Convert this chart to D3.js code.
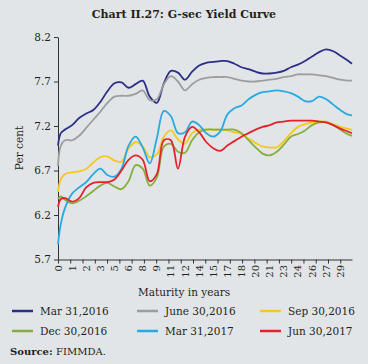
<!DOCTYPE html>
<html>
<head>
<meta charset="utf-8">
<script src="https://cdn.jsdelivr.net/npm/d3@7"></script>
<style>
  body { margin: 0; background: #e1e5e8; }
  svg { display: block; font-family: "DejaVu Serif", serif; }
</style>
</head>
<body>
<svg id="chart" width="368" height="364"></svg>
<script>
// slot = position along the category axis (one slot per printed label)
var slots = [0, 0.2, 0.5, 1, 1.5, 2, 2.5, 3, 3.5, 4, 4.5, 5, 5.5, 6, 6.5, 7, 7.5, 8, 8.5, 9, 9.5,
  10, 10.5, 11, 11.5, 12, 12.5, 13, 13.5, 14, 14.5, 15, 15.5, 16, 16.5, 17, 17.5, 18, 18.5,
  19, 19.5, 20, 20.5, 20.83];

var mar2016 = [6.98, 7.12, 7.16, 7.21, 7.29, 7.34, 7.38, 7.47, 7.59, 7.68, 7.69, 7.63, 7.67, 7.71, 7.53,
  7.46, 7.68, 7.82, 7.80, 7.72, 7.81, 7.88, 7.91, 7.92, 7.93, 7.93, 7.90, 7.86, 7.84, 7.81, 7.79,
  7.79, 7.80, 7.82, 7.86, 7.89, 7.93, 7.98, 8.03, 8.06, 8.04, 7.99, 7.94, 7.90];
var jun2016 = [6.75, 6.98, 7.04, 7.04, 7.09, 7.18, 7.27, 7.36, 7.46, 7.53, 7.54, 7.54, 7.56, 7.60, 7.49,
  7.50, 7.67, 7.76, 7.70, 7.60, 7.67, 7.72, 7.74, 7.75, 7.75, 7.75, 7.73, 7.71, 7.70, 7.70, 7.71,
  7.72, 7.73, 7.75, 7.76, 7.78, 7.78, 7.78, 7.77, 7.76, 7.74, 7.72, 7.71, 7.71];
var sep2016 = [6.46, 6.60, 6.66, 6.68, 6.69, 6.72, 6.79, 6.85, 6.86, 6.81, 6.80, 6.95, 7.02, 6.97, 6.85,
  6.88, 7.08, 7.15, 7.05, 7.00, 7.12, 7.16, 7.16, 7.16, 7.16, 7.15, 7.13, 7.11, 7.06, 7.01, 6.97,
  6.96, 6.96, 7.03, 7.12, 7.19, 7.22, 7.24, 7.25, 7.25, 7.22, 7.19, 7.17, 7.16];
var dec2016 = [6.38, 6.41, 6.37, 6.33, 6.36, 6.41, 6.47, 6.53, 6.56, 6.52, 6.49, 6.58, 6.76, 6.72, 6.53,
  6.62, 6.97, 7.00, 6.91, 6.90, 7.04, 7.13, 7.16, 7.16, 7.16, 7.16, 7.16, 7.12, 7.04, 6.96, 6.89,
  6.87, 6.91, 6.99, 7.08, 7.11, 7.15, 7.21, 7.24, 7.24, 7.21, 7.16, 7.11, 7.09];
var mar2017 = [5.87, 6.10, 6.28, 6.44, 6.51, 6.57, 6.66, 6.72, 6.65, 6.63, 6.72, 6.98, 7.08, 6.96, 6.78,
  7.06, 7.37, 7.31, 7.12, 7.13, 7.25, 7.21, 7.12, 7.08, 7.14, 7.33, 7.40, 7.43, 7.50, 7.55, 7.58,
  7.59, 7.60, 7.59, 7.57, 7.53, 7.48, 7.48, 7.53, 7.50, 7.44, 7.38, 7.33, 7.32];
var jun2017 = [6.29, 6.38, 6.39, 6.35, 6.39, 6.51, 6.56, 6.57, 6.57, 6.60, 6.70, 6.82, 6.87, 6.82, 6.58,
  6.66, 7.04, 7.04, 6.72, 7.08, 7.19, 7.13, 7.02, 6.95, 6.92, 6.98, 7.03, 7.08, 7.12, 7.16, 7.19,
  7.21, 7.24, 7.25, 7.26, 7.26, 7.26, 7.26, 7.25, 7.24, 7.21, 7.17, 7.14, 7.12];

var seriesNames = ["Mar 31,2016", "June 30,2016", "Sep 30,2016", "Dec 30,2016", "Mar 31,2017", "Jun 30,2017"];
var seriesColors = ["#2b2f86", "#9d9d9d", "#f7c81a", "#86ae3f", "#27a9e1", "#e2232b"];
var seriesData = [mar2016, jun2016, sep2016, dec2016, mar2017, jun2017];

var xLabels = ["0", "1", "2", "3", "5", "6", "8", "9", "11", "12", "14", "15", "17", "18", "20",
  "21", "23", "24", "26", "27", "29"];
var yTicks = [5.7, 6.2, 6.7, 7.2, 7.7, 8.2];

var svg = d3.select("#chart");

var xScale = d3.scaleLinear()
    .domain([0, 20.83])
    .range([58, 352]);
var yScale = d3.scaleLinear()
    .domain([5.7, 8.2])
    .range([259.5, 37]);

svg.append("text")
    .attr("x", 184)
    .attr("y", 18)
    .attr("text-anchor", "middle")
    .attr("font-size", 11)
    .attr("font-weight", "bold")
    .attr("fill", "#231f20")
    .text("Chart II.27: G-sec Yield Curve");

// y axis
var yAxis = d3.axisLeft(yScale)
    .tickValues(yTicks)
    .tickFormat(d3.format(".1f"))
    .tickSize(4)
    .tickSizeOuter(0);
var gy = svg.append("g")
    .attr("transform", "translate(58,0)")
    .call(yAxis);
gy.select(".domain").attr("stroke", "#333");
gy.selectAll(".tick line").attr("stroke", "#333");
gy.selectAll("text")
    .attr("font-family", "DejaVu Serif, serif")
    .attr("font-size", 10.5)
    .attr("fill", "#231f20")
    .attr("x", -7);

// x axis: tick marks are spaced differently from the labels
var tickSlots = d3.range(24).map(function(i) { return i * 20 / 23; });
var xAxis = d3.axisBottom(xScale)
    .tickValues(tickSlots)
    .tickFormat("")
    .tickSize(4)
    .tickSizeOuter(0);
var gx = svg.append("g")
    .attr("transform", "translate(0,259.5)")
    .call(xAxis);
gx.select(".domain").attr("stroke", "#333");
gx.selectAll(".tick line").attr("stroke", "#333");

svg.append("g")
  .selectAll("text")
  .data(xLabels)
  .enter()
  .append("text")
    .attr("transform", function(d, i) {
        return "translate(" + (xScale(i) + 3.5) + ",265) rotate(-90)";
    })
    .attr("text-anchor", "end")
    .attr("font-size", 10)
    .attr("fill", "#231f20")
    .text(function(d) { return d; });

svg.append("text")
    .attr("transform", "translate(23,148) rotate(-90)")
    .attr("text-anchor", "middle")
    .attr("font-size", 10.5)
    .attr("fill", "#231f20")
    .text("Per cent");

svg.append("text")
    .attr("x", 184)
    .attr("y", 296)
    .attr("text-anchor", "middle")
    .attr("font-size", 10.5)
    .attr("fill", "#231f20")
    .text("Maturity in years");

// lines
var line = d3.line()
    .x(function(d, i) { return xScale(slots[i]); })
    .y(function(d) { return yScale(d); })
    .curve(d3.curveCatmullRom.alpha(0.5));

svg.append("g")
  .selectAll("path")
  .data(seriesData)
  .enter()
  .append("path")
    .attr("d", line)
    .attr("fill", "none")
    .attr("stroke", function(d, i) { return seriesColors[i]; })
    .attr("stroke-width", 1.8);

// legend
var legendX = [12, 137, 260];
var legendY = [311, 331];
var legend = svg.append("g")
  .selectAll("g")
  .data(seriesNames)
  .enter()
  .append("g")
    .attr("transform", function(d, i) {
        return "translate(" + legendX[i % 3] + "," + legendY[Math.floor(i / 3)] + ")";
    });
legend.append("line")
    .attr("x1", 0).attr("x2", 21)
    .attr("y1", 0).attr("y2", 0)
    .attr("stroke", function(d, i) { return seriesColors[i]; })
    .attr("stroke-width", 2.5);
legend.append("text")
    .attr("x", 28)
    .attr("y", 4)
    .attr("font-size", 10.5)
    .attr("fill", "#231f20")
    .text(function(d) { return d; });

var src = svg.append("text")
    .attr("x", 10)
    .attr("y", 355)
    .attr("font-size", 10)
    .attr("fill", "#231f20");
src.append("tspan").attr("font-weight", "bold").text("Source: ");
src.append("tspan").text("FIMMDA.");
</script>
</body>
</html>
